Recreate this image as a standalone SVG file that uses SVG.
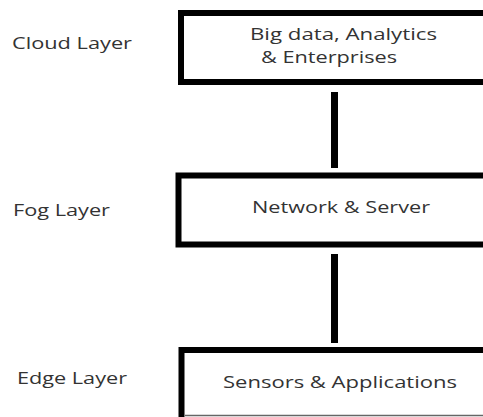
<svg xmlns="http://www.w3.org/2000/svg" width="483" height="417" viewBox="0 0 483 417">
<style>
.box{fill:#fff;stroke:#000;stroke-width:6}
.t{font-family:"Open Sans","Noto Sans",sans-serif;font-size:16px;fill:#333}
.conn{stroke:#000;stroke-width:7;fill:none}
</style>
<rect width="483" height="417" fill="#fff"/>
<g id="labels">
<text class="t" x="12" y="49" textLength="120" lengthAdjust="spacingAndGlyphs">Cloud Layer</text>
<text class="t" x="13" y="216" textLength="97" lengthAdjust="spacingAndGlyphs">Fog Layer</text>
<text class="t" x="17" y="384" textLength="110" lengthAdjust="spacingAndGlyphs">Edge Layer</text>
</g>
<g id="connectors">
<line class="conn" x1="334.5" y1="92" x2="334.5" y2="168"/>
<line class="conn" x1="334.5" y1="254" x2="334.5" y2="343"/>
</g>
<g id="cloud">
<rect class="box" x="181" y="13" width="330" height="69"/>
<text class="t" x="250" y="40" textLength="187" lengthAdjust="spacingAndGlyphs">Big data, Analytics</text>
<text class="t" x="261" y="63" textLength="136" lengthAdjust="spacingAndGlyphs">&amp; Enterprises</text>
</g>
<g id="fog">
<rect class="box" x="178.5" y="175.5" width="330" height="69"/>
<text class="t" x="252" y="213" textLength="178" lengthAdjust="spacingAndGlyphs">Network &amp; Server</text>
</g>
<g id="edge">
<rect class="box" x="181.5" y="350" width="330" height="80"/>
<line x1="185" y1="415.5" x2="483" y2="415.5" stroke="#666" stroke-width="1.5"/>
<text class="t" x="223" y="388" textLength="234" lengthAdjust="spacingAndGlyphs">Sensors &amp; Applications</text>
</g>
</svg>
